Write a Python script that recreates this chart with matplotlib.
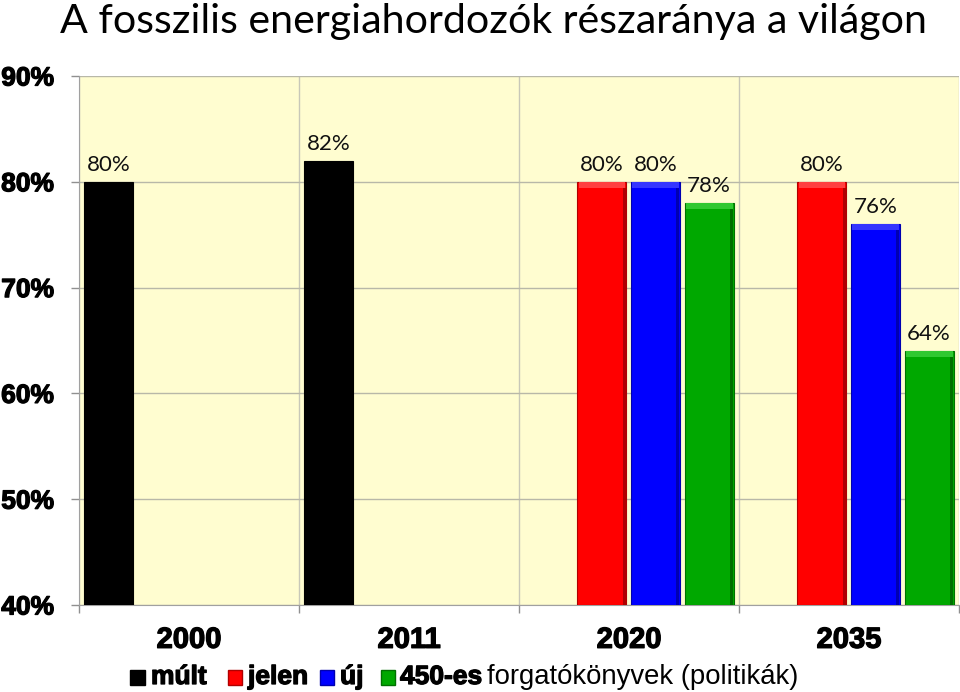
import numpy as np
import matplotlib
matplotlib.use("Agg")
import matplotlib.pyplot as plt
import matplotlib.patheffects as pe
from matplotlib.patches import Rectangle
from matplotlib.ticker import FixedLocator, FuncFormatter

# ---- data ----
categories = ["2000", "2011", "2020", "2035"]
series_names = ["múlt", "jelen", "új", "450-es"]
mult = [80, 82, np.nan, np.nan]
jelen = [np.nan, np.nan, 80, 80]
uj = [np.nan, np.nan, 80, 76]
g450 = [np.nan, np.nan, 78, 64]
series_values = [mult, jelen, uj, g450]
y_ticks = [40, 50, 60, 70, 80, 90]
title = "A fosszilis energiahordozók részaránya a világon"
legend_tail = "forgatókönyvek (politikák)"

# ---- style ----
face = ["#000000", "#FF0000", "#0000FF", "#00A800"]
dark = ["#000000", "#B00000", "#0000B0", "#007000"]
light = ["#202020", "#FF4040", "#3535FF", "#30C830"]
slot_offsets = [0.134, 0.377, 0.620, 0.864]
bar_w = 0.223
heavy = [pe.withStroke(linewidth=0.9, foreground="black")]

fig = plt.figure(figsize=(9.6, 6.92), dpi=100)
ax = fig.add_axes([79/960, 1-605/692, 880/960, 529/692])
ax.set_facecolor("#FFFDD0")
ax.set_xlim(0, 4)
ax.set_ylim(40, 90)

x_base = np.arange(len(categories))
for s, vals in enumerate(series_values):
    vals = np.array(vals, dtype=float)
    xs = x_base + slot_offsets[s]
    m = ~np.isnan(vals)
    xs, v = xs[m], vals[m]
    ax.bar(xs, v - 40, bottom=40, width=bar_w, color=face[s], edgecolor=dark[s],
           linewidth=0.8, zorder=3)
    if s > 0:
        # bevel: dark right strip, lighter top strip
        ax.bar(xs + bar_w/2 - 0.01, v - 40 - 0.6, bottom=40, width=0.016,
               color=dark[s], linewidth=0, zorder=4)
        ax.bar(xs, 0.6, bottom=v - 0.6, width=bar_w - 0.01, color=light[s],
               linewidth=0, zorder=4)
    for xi, vi in zip(xs, v):
        ax.annotate(f"{vi:.0f}%", (xi, vi), xytext=(0, 8), textcoords="offset points",
                    ha="center", va="baseline", fontsize=16, family="Lato",
                    color="#111111", zorder=5)

# grid / ticks
ax.yaxis.set_major_locator(FixedLocator(y_ticks))
ax.yaxis.set_major_formatter(FuncFormatter(lambda v, p: f"{v:.0f}%"))
ax.grid(axis="y", color="#B8B8A8", linewidth=1, zorder=1)
ax.set_xticks(x_base + 0.5)
ax.set_xticklabels(categories)
ax.set_xticks(np.arange(len(categories) + 1), minor=True)
ax.grid(axis="x", which="minor", color="#C8C8B8", linewidth=1, zorder=1)
ax.tick_params(axis="x", which="major", length=0, pad=15)
ax.tick_params(axis="x", which="minor", length=6, color="#909090", width=1)
ax.tick_params(axis="y", length=6, color="#909090", width=1, pad=12)
for lab in ax.get_yticklabels():
    lab.set_fontfamily("Liberation Sans")
    lab.set_fontweight("bold")
    lab.set_fontsize(19)
    lab.set_path_effects(heavy)
for lab in ax.get_xticklabels():
    lab.set_fontfamily("Liberation Sans")
    lab.set_fontweight("bold")
    lab.set_fontsize(21)
    lab.set_path_effects(heavy)
for sp in ["top", "right"]:
    ax.spines[sp].set_visible(False)
ax.spines["left"].set_color("#A0A0A0")
ax.spines["bottom"].set_color("#A0A0A0")

# title
fig.text(60/960, 1-33/692, title, ha="left", va="baseline", fontsize=29.6,
         family="Lato", color="#000000")

# legend
leg_y = 1 - 677/692
sq = [(130, 145), (228, 242), (320, 334), (381, 395)]
txt_x = [151, 248, 340, 400]
for s in range(4):
    x0, x1 = sq[s]
    fig.patches.append(Rectangle((x0/960, 1-685/692), (x1-x0)/960, 15/692,
                                 transform=fig.transFigure, facecolor=face[s],
                                 edgecolor=dark[s], linewidth=1))
    fig.text(txt_x[s]/960, leg_y, series_names[s], ha="left", va="center",
             fontsize=19, fontweight="bold", family="Liberation Sans",
             path_effects=heavy)
fig.text(487/960, leg_y, legend_tail, ha="left", va="center", fontsize=19.8,
         family="Liberation Sans")

fig.savefig("out.png", dpi=100, facecolor="white")
